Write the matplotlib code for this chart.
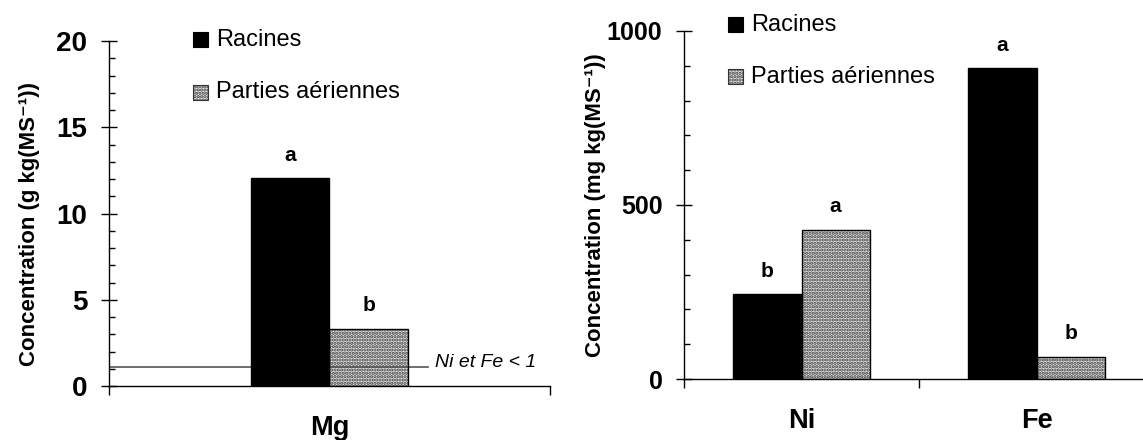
import matplotlib.pyplot as plt
from matplotlib.patches import Rectangle
from matplotlib.ticker import MultipleLocator

plt.rcParams['font.family'] = ['Liberation Sans', 'DejaVu Sans']
plt.rcParams['hatch.linewidth'] = 1.6

# Données : macro-élément (g/kg) et micro-éléments (mg/kg)
mg_elements = ['Mg']
mg_racines = [12.05]
mg_aeriennes = [3.3]
mg_lettres_rac = ['a']
mg_lettres_aer = ['b']
seuil_ni_fe = 1.1

micro_elements = ['Ni', 'Fe']
micro_racines = [244, 894]
micro_aeriennes = [428, 63]
micro_lettres_rac = ['b', 'a']
micro_lettres_aer = ['a', 'b']

series = ['Racines', 'Parties aériennes']

W, H = 1143, 440
fig = plt.figure(figsize=(W / 100, H / 100), dpi=100)

ax1 = fig.add_axes([109 / W, (H - 386) / H, 441 / W, 345 / H])
ax2 = fig.add_axes([684 / W, (H - 379) / H, 470 / W, 348 / H])

STIPPLE_FACE = '#e4e4e4'
STIPPLE_DOTS = '#3a3a3a'
STIPPLE_HATCH = '.....'


def draw_bars(ax, labels, rac, aer, let_rac, let_aer, width, ytick_size):
    x = list(range(len(labels)))
    x_rac = [i - width / 2 for i in x]
    x_aer = [i + width / 2 for i in x]
    ax.bar(x_rac, rac, width, color='black', edgecolor='black', lw=1, zorder=3)
    ax.bar(x_aer, aer, width, color=STIPPLE_FACE, edgecolor=STIPPLE_DOTS,
           hatch=STIPPLE_HATCH, lw=0, zorder=2)
    ax.bar(x_aer, aer, width, fill=False, edgecolor='black', lw=1, zorder=3)
    for xi, v, t in zip(x_rac, rac, let_rac):
        ax.annotate(t, (xi, v), xytext=(0, 16), textcoords='offset points',
                    ha='center', va='center', fontsize=15, fontweight='bold')
    for xi, v, t in zip(x_aer, aer, let_aer):
        ax.annotate(t, (xi, v), xytext=(0, 17), textcoords='offset points',
                    ha='center', va='center', fontsize=15, fontweight='bold')
    ax.set_xlim(-0.5, len(labels) - 0.5)
    # séparateurs de catégories et étiquettes centrées
    ax.set_xticks([i - 0.5 for i in range(len(labels) + 1)])
    ax.set_xticklabels([])
    ax.set_xticks(x, minor=True)
    ax.set_xticklabels(labels, minor=True, fontsize=19.5, fontweight='bold')
    ax.tick_params(axis='x', which='major', direction='out', length=6.5, width=1)
    ax.tick_params(axis='x', which='minor', length=0, pad=21)
    ax.tick_params(axis='y', which='major', direction='inout', length=11,
                   width=1, labelsize=ytick_size, pad=10)
    ax.tick_params(axis='y', which='minor', direction='in', length=4.5, width=1)
    for s in ['top', 'right']:
        ax.spines[s].set_visible(False)
    for s in ['left', 'bottom']:
        ax.spines[s].set_linewidth(1)


def draw_legend(x0, y_rows):
    for (yc, lab) in zip(y_rows, series):
        box = (x0 / W, (H - yc - 7.5) / H)
        if lab == 'Racines':
            fig.patches.append(Rectangle(box, 15 / W, 15 / H, transform=fig.transFigure,
                                         facecolor='black', edgecolor='black', lw=0.8))
        else:
            fig.patches.append(Rectangle(box, 15 / W, 15 / H, transform=fig.transFigure,
                                         facecolor=STIPPLE_FACE, edgecolor=STIPPLE_DOTS,
                                         hatch=STIPPLE_HATCH, lw=0))
            fig.patches.append(Rectangle(box, 15 / W, 15 / H, transform=fig.transFigure,
                                         fill=False, edgecolor='#333333', lw=0.8))
        fig.text((x0 + 23) / W, (H - yc) / H, lab, fontsize=17, va='center', ha='left')


# Panneau gauche : Mg
draw_bars(ax1, mg_elements, mg_racines, mg_aeriennes, mg_lettres_rac, mg_lettres_aer,
          0.179, 20)
ax1.set_ylim(0, 20)
ax1.yaxis.set_major_locator(MultipleLocator(5))
ax1.yaxis.set_minor_locator(MultipleLocator(1))
ax1.plot([-0.5, 0.223], [seuil_ni_fe, seuil_ni_fe], color='#555555', lw=1.2, zorder=2.5)
ax1.text(0.239, 1.35, 'Ni et Fe < 1', fontsize=14, fontstyle='italic', va='center', ha='left')
ax1.set_ylabel('Concentration (g kg(MS⁻¹))', fontsize=16, fontweight='bold')
ax1.yaxis.set_label_coords(-0.156, 0.47)
for lab in ax1.get_yticklabels():
    lab.set_fontweight('bold')

# Panneau droit : Ni et Fe
draw_bars(ax2, micro_elements, micro_racines, micro_aeriennes, micro_lettres_rac,
          micro_lettres_aer, 0.29, 18)
ax2.set_ylim(0, 1000)
ax2.yaxis.set_major_locator(MultipleLocator(500))
ax2.yaxis.set_minor_locator(MultipleLocator(100))
ax2.set_ylabel('Concentration (mg kg(MS⁻¹))', fontsize=16, fontweight='bold')
ax2.yaxis.set_label_coords(-0.166, 0.5)
for lab in ax2.get_yticklabels():
    lab.set_fontweight('bold')

draw_legend(193, [40, 92])
draw_legend(728, [25, 77])

fig.savefig('out.png', dpi=100)
